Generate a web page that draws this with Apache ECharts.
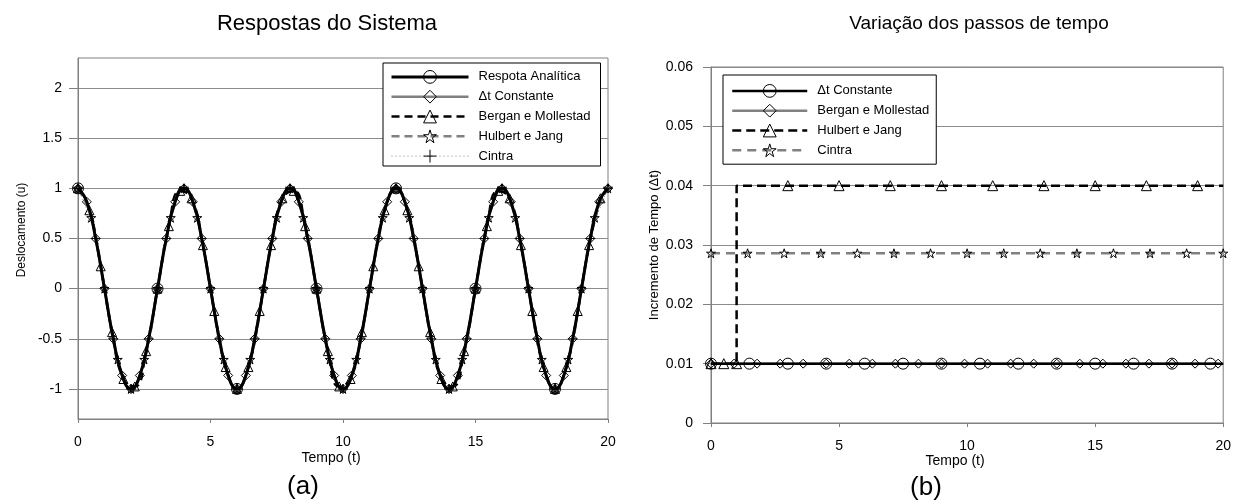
<!DOCTYPE html>
<html>
<head>
<meta charset="utf-8">
<title>Respostas do Sistema / Variação dos passos de tempo</title>
<script src="https://cdn.jsdelivr.net/npm/echarts@6/dist/echarts.min.js"></script>
<style>
  html, body { margin: 0; padding: 0; background: #fff; }
  #wrap { position: relative; width: 1234px; height: 504px; }
  #graficoA { position: absolute; left: 0; top: 0; width: 630px; height: 504px; }
  #graficoB { position: absolute; left: 630px; top: 0; width: 604px; height: 504px; }
</style>
</head>
<body>
<div id="wrap">
  <div id="graficoA"></div>
  <div id="graficoB"></div>
</div>
<script>
// ================= (a) Respostas do Sistema: deslocamento u(t) =================
const tAnalitica = [0, 0.333, 0.667, 1, 1.333, 1.667, 2, 2.333, 2.667, 3,
  3.333, 3.667, 4, 4.333, 4.667, 5, 5.333, 5.667, 6, 6.333,
  6.667, 7, 7.333, 7.667, 8, 8.333, 8.667, 9, 9.333, 9.667,
  10, 10.333, 10.667, 11, 11.333, 11.667, 12, 12.333, 12.667, 13,
  13.333, 13.667, 14, 14.333, 14.667, 15, 15.333, 15.667, 16, 16.333,
  16.667, 17, 17.333, 17.667, 18, 18.333, 18.667, 19, 19.333, 19.667, 20];
const uAnalitica = [1, 0.866, 0.5, 0, -0.5, -0.866, -1, -0.866, -0.5, 0, 0.5, 0.866,
  1, 0.866, 0.5, 0, -0.5, -0.866, -1, -0.866, -0.5, 0, 0.5, 0.866,
  1, 0.866, 0.5, 0, -0.5, -0.866, -1, -0.866, -0.5, 0, 0.5, 0.866,
  1, 0.866, 0.5, 0, -0.5, -0.866, -1, -0.866, -0.5, 0, 0.5, 0.866,
  1, 0.866, 0.5, 0, -0.5, -0.866, -1, -0.866, -0.5, 0, 0.5, 0.866, 1];
// instants where the analytical curve carries a circle marker
const marcasAnalitica = [0, 3, 6, 9, 12, 15, 18];

const tConstante = [0, 0.333, 0.667, 1, 1.333, 1.667, 2, 2.333, 2.667, 3,
  3.333, 3.667, 4, 4.333, 4.667, 5, 5.333, 5.667, 6, 6.333,
  6.667, 7, 7.333, 7.667, 8, 8.333, 8.667, 9, 9.333, 9.667,
  10, 10.333, 10.667, 11, 11.333, 11.667, 12, 12.333, 12.667, 13,
  13.333, 13.667, 14, 14.333, 14.667, 15, 15.333, 15.667, 16, 16.333,
  16.667, 17, 17.333, 17.667, 18, 18.333, 18.667, 19, 19.333, 19.667, 20];
const uConstante = [1, 0.866, 0.5, 0, -0.5, -0.866, -1, -0.866, -0.5, 0, 0.5, 0.866,
  1, 0.866, 0.5, 0, -0.5, -0.866, -1, -0.866, -0.5, 0, 0.5, 0.866,
  1, 0.866, 0.5, 0, -0.5, -0.866, -1, -0.866, -0.5, 0, 0.5, 0.866,
  1, 0.866, 0.5, 0, -0.5, -0.866, -1, -0.866, -0.5, 0, 0.5, 0.866,
  1, 0.866, 0.5, 0, -0.5, -0.866, -1, -0.866, -0.5, 0, 0.5, 0.866, 1];

const tBergan = [0, 0.429, 0.857, 1.286, 1.714, 2.143, 2.571, 3, 3.429, 3.857,
  4.286, 4.714, 5.143, 5.571, 6, 6.429, 6.857, 7.286, 7.714, 8.143,
  8.571, 9, 9.429, 9.857, 10.286, 10.714, 11.143, 11.571, 12, 12.429,
  12.857, 13.286, 13.714, 14.143, 14.571, 15, 15.429, 15.857, 16.286, 16.714,
  17.143, 17.571, 18, 18.429, 18.857, 19.286, 19.714];
const uBergan = [1, 0.782, 0.223, -0.434, -0.901, -0.975, -0.623, 0, 0.623, 0.975,
  0.901, 0.434, -0.223, -0.782, -1, -0.782, -0.223, 0.434, 0.901, 0.975,
  0.623, 0, -0.623, -0.975, -0.901, -0.434, 0.223, 0.782, 1, 0.782,
  0.223, -0.434, -0.901, -0.975, -0.623, 0, 0.623, 0.975, 0.901, 0.434,
  -0.223, -0.782, -1, -0.782, -0.223, 0.434, 0.901];

const tHulbert = [0, 0.5, 1, 1.5, 2, 2.5, 3, 3.5, 4, 4.5,
  5, 5.5, 6, 6.5, 7, 7.5, 8, 8.5, 9, 9.5,
  10, 10.5, 11, 11.5, 12, 12.5, 13, 13.5, 14, 14.5,
  15, 15.5, 16, 16.5, 17, 17.5, 18, 18.5, 19, 19.5, 20];
const uHulbert = [1, 0.707, 0, -0.707, -1, -0.707, 0, 0.707,
  1, 0.707, 0, -0.707, -1, -0.707, 0, 0.707,
  1, 0.707, 0, -0.707, -1, -0.707, 0, 0.707,
  1, 0.707, 0, -0.707, -1, -0.707, 0, 0.707,
  1, 0.707, 0, -0.707, -1, -0.707, 0, 0.707, 1];

const tCintra = [0, 0.667, 1.333, 2, 2.667, 3.333, 4, 4.667, 5.333, 6,
  6.667, 7.333, 8, 8.667, 9.333, 10, 10.667, 11.333, 12, 12.667,
  13.333, 14, 14.667, 15.333, 16, 16.667, 17.333, 18, 18.667, 19.333, 20];
const uCintra = [1, 0.5, -0.5, -1, -0.5, 0.5, 1, 0.5, -0.5, -1, -0.5, 0.5,
  1, 0.5, -0.5, -1, -0.5, 0.5, 1, 0.5, -0.5, -1, -0.5, 0.5,
  1, 0.5, -0.5, -1, -0.5, 0.5, 1];

// ================= (b) Variação dos passos de tempo: Δt(t) =================
const tPassoConstante = [0, 1.5, 3, 4.5, 6, 7.5, 9, 10.5, 12, 13.5, 15, 16.5, 18, 19.5, 20];
const dtConstante = [0.01, 0.01, 0.01, 0.01, 0.01, 0.01, 0.01, 0.01, 0.01,
  0.01, 0.01, 0.01, 0.01, 0.01, 0.01];
const semMarcaConstante = [14];

const tPassoBergan = [0, 0.9, 1.8, 2.7, 3.6, 4.5, 5.4, 6.3, 7.2, 8.1,
  9, 9.9, 10.8, 11.7, 12.6, 13.5, 14.4, 15.3, 16.2, 17.1,
  18, 18.9, 19.8];
const dtBergan = [0.01, 0.01, 0.01, 0.01, 0.01, 0.01, 0.01, 0.01, 0.01, 0.01,
  0.01, 0.01, 0.01, 0.01, 0.01, 0.01, 0.01, 0.01, 0.01, 0.01,
  0.01, 0.01, 0.01];
const semMarcaBergan = [];

const tPassoHulbert = [0, 0.5, 1, 1, 3, 5, 7, 9, 11, 13, 15, 17, 19, 20];
const dtHulbert = [0.01, 0.01, 0.01, 0.04, 0.04, 0.04, 0.04, 0.04, 0.04,
  0.04, 0.04, 0.04, 0.04, 0.04];
const semMarcaHulbert = [3, 13];

const tPassoCintra = [0, 1.429, 2.857, 4.286, 5.714, 7.143, 8.571, 10, 11.429,
  12.857, 14.286, 15.714, 17.143, 18.571, 20];
const dtCintra = [0.0286, 0.0286, 0.0286, 0.0286, 0.0286, 0.0286, 0.0286, 0.0286,
  0.0286, 0.0286, 0.0286, 0.0286, 0.0286, 0.0286, 0.0286];
const semMarcaCintra = [];

// tick labels of the displacement axis (its range runs past them)
const ticksDesloc = [-1, -0.5, 0, 0.5, 1, 1.5, 2];

// ---------------- shared styling ----------------
const FONTE = '"Liberation Sans", Arial, sans-serif';
const CINZA = '#808080';
const GRADE = '#8c8c8c';
const SIMB_ESTRELA = 'path://M50,2 L61,36 L97,36 L68,57 L79,92 L50,70 L21,92 L32,57 L3,36 L39,36 Z';
const SIMB_MAIS = 'path://M50,0 L50,100 M0,50 L100,50';

function vazado(w) {
  return { color: 'rgba(0,0,0,0)', borderColor: '#000', borderWidth: w };
}

function pontos(ts, vs, comMarca) {
  return ts.map(function (t, i) {
    return comMarca(i, t) ? [t, vs[i]] : { value: [t, vs[i]], symbol: 'none' };
  });
}

function linha(nome, dados, simbolo, tamanho, estiloLinha, z, suave) {
  return {
    name: nome,
    type: 'line',
    data: dados,
    smooth: suave,
    symbol: simbolo,
    symbolSize: tamanho,
    showSymbol: true,
    showAllSymbol: true,
    itemStyle: vazado(1),
    lineStyle: estiloLinha,
    z: z,
    silent: true,
    emphasis: { disabled: true },
    animation: false
  };
}

function eixoTempo(margemNome) {
  return {
    type: 'value',
    min: 0,
    max: 20,
    interval: 5,
    name: 'Tempo (t)',
    nameLocation: 'middle',
    nameGap: margemNome,
    nameMoveOverlap: false,
    nameTextStyle: { fontFamily: FONTE, fontSize: 14, color: '#000', padding: [0, 24, 0, 0] },
    axisLine: { show: true, onZero: false, lineStyle: { color: CINZA, width: 1 } },
    axisTick: { show: true, length: 4, lineStyle: { color: CINZA } },
    axisLabel: { fontFamily: FONTE, fontSize: 14, color: '#000', margin: 16 },
    splitLine: { show: false }
  };
}

function legenda(esq, topo, largura, pad, nomes) {
  return {
    orient: 'vertical',
    left: esq,
    top: topo,
    data: nomes,
    itemWidth: largura,
    itemHeight: 16,
    itemGap: 6,
    padding: pad,
    backgroundColor: '#fff',
    borderColor: '#000',
    borderWidth: 1,
    borderRadius: 0,
    selectedMode: false,
    itemStyle: { borderWidth: 1 },
    textStyle: { fontFamily: FONTE, fontSize: 13, color: '#000', padding: [0, 0, 0, 5] }
  };
}

// ---------------- chart (a) ----------------
const graficoA = echarts.init(document.getElementById('graficoA'), null, { renderer: 'canvas' });
graficoA.setOption({
  backgroundColor: '#fff',
  animation: false,
  grid: { left: 78, top: 58, right: 22, bottom: 85, show: true, borderColor: CINZA, borderWidth: 1 },
  xAxis: eixoTempo(32),
  yAxis: {
    type: 'value',
    min: -1.3,
    max: 2.3,
    name: 'Deslocamento (u)',
    nameLocation: 'middle',
    nameRotate: 90,
    nameGap: 50,
    nameMoveOverlap: false,
    nameTextStyle: { fontFamily: FONTE, fontSize: 12, color: '#000', padding: [0, 0, 0, 17] },
    axisLine: { show: true, onZero: false, lineStyle: { color: CINZA, width: 1 } },
    axisTick: { show: true, length: 9, customValues: ticksDesloc, lineStyle: { color: CINZA } },
    axisLabel: { customValues: ticksDesloc, fontFamily: FONTE, fontSize: 14, color: '#000', margin: 16 },
    splitLine: { show: true, lineStyle: { color: GRADE, width: 1 } }
  },
  legend: legenda(383, 63, 77, [7, 10, 3, 7], [
    { name: 'Respota Analítica', lineStyle: { width: 3 } },
    { name: 'Δt Constante', lineStyle: { width: 2.5 } },
    { name: 'Bergan e Mollestad', lineStyle: { width: 2.5 } },
    { name: 'Hulbert e Jang', lineStyle: { width: 2.5 } },
    { name: 'Cintra', lineStyle: { width: 1 } }
  ]),
  graphic: [
    { type: 'text', x: 327, y: 24, silent: true,
      style: { text: 'Respostas do Sistema', fontFamily: FONTE, fontSize: 22, fill: '#000', align: 'center', verticalAlign: 'middle' } },
    { type: 'text', x: 303, y: 487, silent: true,
      style: { text: '(a)', fontFamily: FONTE, fontSize: 26, fill: '#000', align: 'center', verticalAlign: 'middle' } }
  ],
  series: [
    linha('Respota Analítica',
      pontos(tAnalitica, uAnalitica, function (i, t) { return marcasAnalitica.indexOf(t) >= 0; }),
      'circle', 11, { color: '#000', width: 3 }, 6, true),
    linha('Δt Constante', pontos(tConstante, uConstante, function () { return true; }),
      'diamond', 9, { color: CINZA, width: 2.5 }, 3, true),
    linha('Bergan e Mollestad', pontos(tBergan, uBergan, function () { return true; }),
      'triangle', 9, { color: '#000', width: 2.5, type: [8, 5] }, 4, true),
    linha('Hulbert e Jang', pontos(tHulbert, uHulbert, function () { return true; }),
      SIMB_ESTRELA, 9, { color: CINZA, width: 2.5, type: [8, 5] }, 4, true),
    linha('Cintra', pontos(tCintra, uCintra, function () { return true; }),
      SIMB_MAIS, 9, { color: CINZA, width: 1, type: [1, 3] }, 5, true)
  ]
});

// ---------------- chart (b) ----------------
function semMarca(lista) {
  return function (i) { return lista.indexOf(i) < 0; };
}

const graficoB = echarts.init(document.getElementById('graficoB'), null, { renderer: 'canvas' });
graficoB.setOption({
  backgroundColor: '#fff',
  animation: false,
  grid: { left: 81, top: 67, right: 8, bottom: 81, show: true, borderColor: CINZA, borderWidth: 1 },
  xAxis: eixoTempo(31),
  yAxis: {
    type: 'value',
    min: 0,
    max: 0.06,
    interval: 0.01,
    name: 'Incremento de Tempo (Δt)',
    nameLocation: 'middle',
    nameRotate: 90,
    nameGap: 50,
    nameMoveOverlap: false,
    nameTextStyle: { fontFamily: FONTE, fontSize: 13, color: '#000' },
    axisLine: { show: true, onZero: false, lineStyle: { color: CINZA, width: 1 } },
    axisTick: { show: true, length: 8, lineStyle: { color: CINZA } },
    axisLabel: { fontFamily: FONTE, fontSize: 14, color: '#000', margin: 18 },
    splitLine: { show: true, lineStyle: { color: GRADE, width: 1 } }
  },
  legend: legenda(93, 75, 75, [9, 7, 7, 8], [
    { name: 'Δt Constante', lineStyle: { width: 2.5 } },
    { name: 'Bergan e Mollestad', lineStyle: { width: 2.5 } },
    { name: 'Hulbert e Jang', lineStyle: { width: 2.5 } },
    { name: 'Cintra', lineStyle: { width: 2.5 } }
  ]),
  graphic: [
    { type: 'text', x: 349, y: 24, silent: true,
      style: { text: 'Variação dos passos de tempo', fontFamily: FONTE, fontSize: 19, fill: '#000', align: 'center', verticalAlign: 'middle' } },
    { type: 'text', x: 296, y: 488, silent: true,
      style: { text: '(b)', fontFamily: FONTE, fontSize: 26, fill: '#000', align: 'center', verticalAlign: 'middle' } }
  ],
  series: [
    linha('Δt Constante', pontos(tPassoConstante, dtConstante, semMarca(semMarcaConstante)),
      'circle', 11, { color: '#000', width: 2.5 }, 6, false),
    linha('Bergan e Mollestad', pontos(tPassoBergan, dtBergan, semMarca(semMarcaBergan)),
      'diamond', 9, { color: CINZA, width: 2.5 }, 3, false),
    linha('Hulbert e Jang', pontos(tPassoHulbert, dtHulbert, semMarca(semMarcaHulbert)),
      'triangle', 10, { color: '#000', width: 2.5, type: [9, 5] }, 5, false),
    linha('Cintra', pontos(tPassoCintra, dtCintra, semMarca(semMarcaCintra)),
      SIMB_ESTRELA, 9, { color: CINZA, width: 2.5, type: [9, 6] }, 4, false)
  ]
});
</script>
</body>
</html>
